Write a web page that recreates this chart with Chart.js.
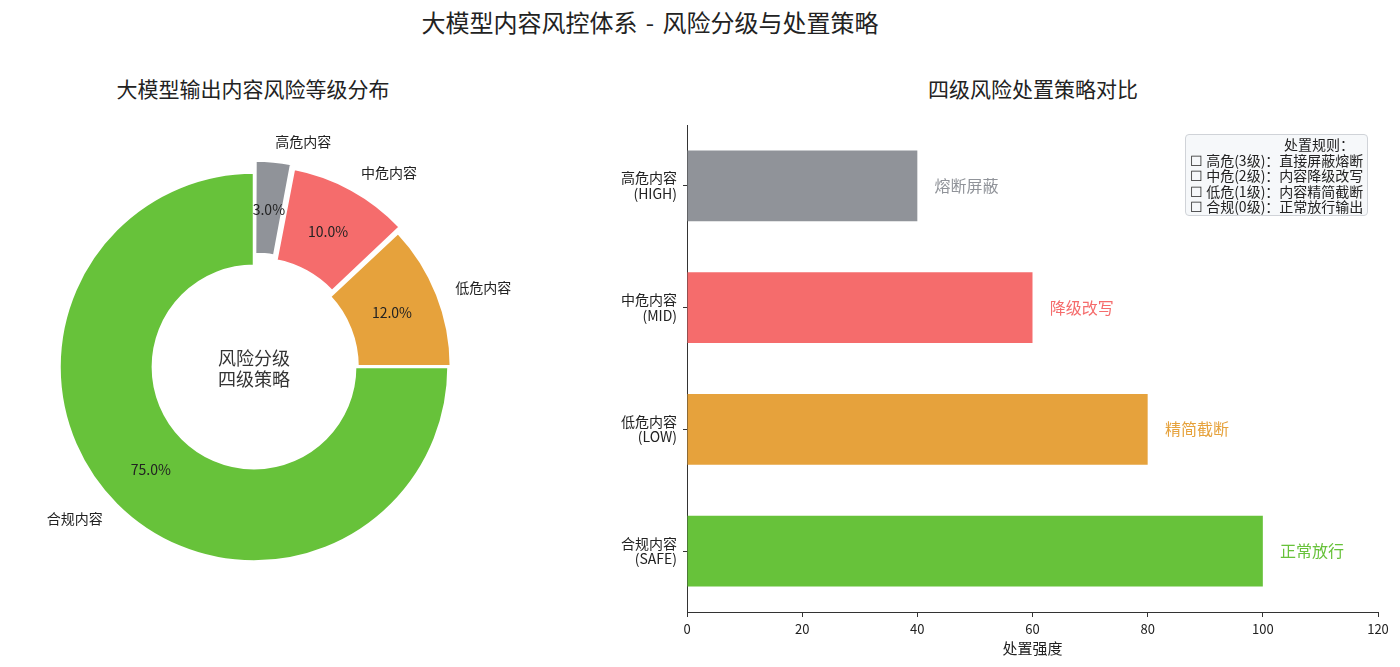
<!DOCTYPE html>
<html lang="zh-CN">
<head>
<meta charset="UTF-8">
<title>大模型内容风控体系</title>
<script src="https://cdn.jsdelivr.net/npm/chart.js"></script>
<style>
    body {
        margin: 0;
        width: 1400px;
        height: 667px;
        position: relative;
        overflow: hidden;
        background: #fff;
        color: #222;
        font-family: "Noto Sans CJK SC", sans-serif;
    }
    .title {
        position: absolute;
        top: 7px;
        left: 0;
        width: 1300px;
        text-align: center;
        font-size: 24px;
        line-height: 29px;
        word-spacing: 3px;
    }
    .sub {
        position: absolute;
        top: 75px;
        font-size: 21px;
        line-height: 26px;
        text-align: center;
    }
    #pie { position: absolute; left: 0; top: 117px; }
    #bar { position: absolute; left: 560px; top: 115px; }
    .rules {
        position: absolute;
        left: 1185px;
        top: 134px;
        width: 183px;
        height: 82px;
        box-sizing: border-box;
        padding: 2px 3px 0 4px;
        background: rgba(245, 247, 250, 0.9);
        border: 1px solid #d0d3d8;
        border-radius: 4px;
        font-size: 14px;
        line-height: 15.6px;
        white-space: nowrap;
    }
    .rules .head { text-align: right; padding-right: 10px; }
</style>
</head>
<body>

<div class="title">大模型内容风控体系 - 风险分级与处置策略</div>
<div class="sub" style="left:0;width:506px;">大模型输出内容风险等级分布</div>
<div class="sub" style="left:833px;width:400px;">四级风险处置策略对比</div>

<canvas id="pie" width="560" height="500"></canvas>
<canvas id="bar" width="840" height="552"></canvas>

<div class="rules">
    <div class="head">处置规则：</div>
    <div>☐ 高危(3级)：直接屏蔽熔断</div>
    <div>☐ 中危(2级)：内容降级改写</div>
    <div>☐ 低危(1级)：内容精简截断</div>
    <div>☐ 合规(0级)：正常放行输出</div>
</div>

<script>
    // 饼图数据
    const riskLabels = ['高危内容', '中危内容', '低危内容', '合规内容'];
    const riskShare = [3, 10, 12, 75];
    const riskColors = ['#909399', '#F56C6C', '#E6A23C', '#67C23A'];
    const explodePx = [12, 8, 2.5, 0];

    // 条形图数据
    const levelLabels = [['高危内容', '(HIGH)'], ['中危内容', '(MID)'], ['低危内容', '(LOW)'], ['合规内容', '(SAFE)']];
    const intensity = [40, 60, 80, 100];
    const actions = ['熔断屏蔽', '降级改写', '精简截断', '正常放行'];

    const FONT = '"Noto Sans CJK SC", sans-serif';
    Chart.defaults.font.family = FONT;
    Chart.defaults.color = '#222';

    // chart.js v4 arc offset -> actual shift is offset/4 * (1 + fix)
    function arcOffset(i) {
        const circ = riskShare[i] / 100 * Math.PI * 2;
        const fix = 1 - Math.sin(Math.min(Math.PI, circ));
        return explodePx[i] * 4 / (1 + fix);
    }

    const pieLabels = {
        id: 'pieLabels',
        afterDatasetsDraw(chart) {
            const ctx = chart.ctx;
            const meta = chart.getDatasetMeta(0);
            const total = riskShare.reduce((a, b) => a + b, 0);
            ctx.save();
            meta.data.forEach((arc, i) => {
                const p = arc.getProps(['x', 'y', 'startAngle', 'endAngle', 'outerRadius'], true);
                const mid = (p.startAngle + p.endAngle) / 2;
                const c = Math.cos(mid), s = Math.sin(mid);
                const cx = p.x + c * explodePx[i];
                const cy = p.y + s * explodePx[i];
                const rp = p.outerRadius * 0.75;

                ctx.fillStyle = '#222';
                ctx.font = '14px ' + FONT;
                ctx.textAlign = 'center';
                ctx.textBaseline = 'middle';
                ctx.fillText((riskShare[i] / total * 100).toFixed(1) + '%', cx + c * rp, cy + s * rp);

                const rl = p.outerRadius * 1.1;
                ctx.textAlign = c >= 0 ? 'left' : 'right';
                ctx.fillText(riskLabels[i], cx + c * rl, cy + s * rl);
            });
            const a = meta.data[0];
            ctx.font = '18px ' + FONT;
            ctx.textAlign = 'center';
            ctx.fillStyle = '#333';
            ctx.fillText('风险分级', a.x, a.y - 9);
            ctx.fillText('四级策略', a.x, a.y + 12);
            ctx.restore();
        }
    };

    new Chart(document.getElementById('pie'), {
        type: 'doughnut',
        data: {
            labels: riskLabels,
            datasets: [{
                data: riskShare,
                backgroundColor: riskColors,
                borderColor: '#fff',
                borderWidth: 2.5,
                offset: (c) => arcOffset(c.dataIndex)
            }]
        },
        options: {
            responsive: false,
            animation: false,
            radius: 194.5,
            cutout: '52%',
            layout: { padding: { right: 52 } },
            plugins: {
                legend: { display: false },
                tooltip: { enabled: false }
            }
        },
        plugins: [pieLabels]
    });

    const barNotes = {
        id: 'barNotes',
        afterDatasetsDraw(chart) {
            const ctx = chart.ctx;
            const xs = chart.scales.x;
            const meta = chart.getDatasetMeta(0);
            ctx.save();
            ctx.font = '16px ' + FONT;
            ctx.textAlign = 'left';
            ctx.textBaseline = 'middle';
            meta.data.forEach((bar, i) => {
                ctx.fillStyle = riskColors[i];
                ctx.fillText(actions[i], xs.getPixelForValue(intensity[i] + 3), bar.y);
            });
            ctx.restore();
        }
    };

    new Chart(document.getElementById('bar'), {
        type: 'bar',
        data: {
            labels: levelLabels,
            datasets: [{
                data: intensity,
                backgroundColor: riskColors,
                categoryPercentage: 1,
                barPercentage: 0.58
            }]
        },
        options: {
            indexAxis: 'y',
            responsive: false,
            animation: false,
            layout: { padding: { top: 10, right: 22, left: 0, bottom: 0 } },
            plugins: {
                legend: { display: false },
                tooltip: { enabled: false }
            },
            scales: {
                x: {
                    min: 0,
                    max: 120,
                    ticks: { stepSize: 20, font: { size: 13 }, padding: 4 },
                    grid: { drawOnChartArea: false, tickLength: 5, tickColor: '#333' },
                    border: { color: '#333' },
                    title: { display: true, text: '处置强度', font: { size: 15 }, padding: { top: 4, bottom: 10 } },
                    afterFit: (s) => { s.height = 55; }
                },
                y: {
                    ticks: { font: { size: 14, lineHeight: 1.1 }, padding: 6 },
                    grid: { drawOnChartArea: false, offset: false, tickLength: 4, tickColor: '#333' },
                    border: { color: '#333' },
                    afterFit: (s) => {
                        s.width = 127;
                        s.paddingTop = 0;
                        s.paddingBottom = 0;
                    }
                }
            }
        },
        plugins: [barNotes]
    });
</script>
</body>
</html>
